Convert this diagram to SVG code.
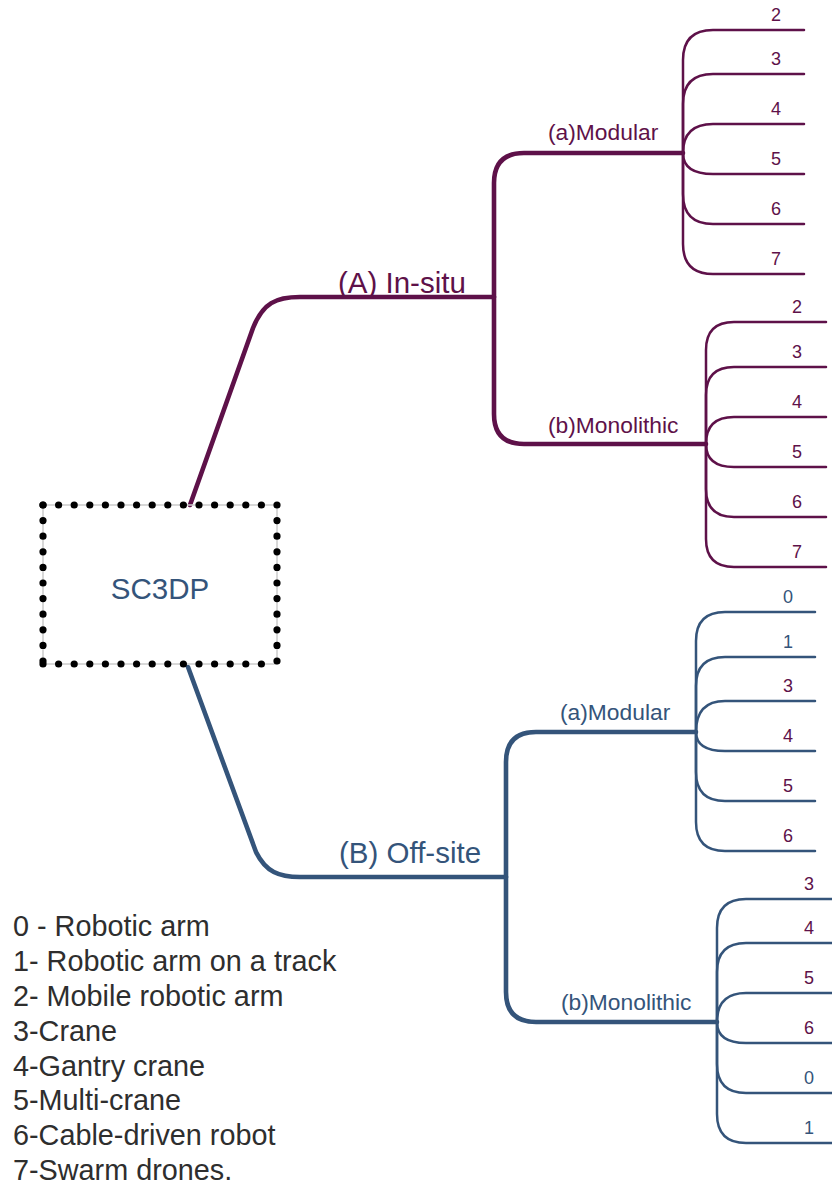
<svg xmlns="http://www.w3.org/2000/svg" width="832" height="1184" viewBox="0 0 832 1184">
<style>
text{font-family:"Liberation Sans",Arial,sans-serif}
.p{stroke:#5e1149;fill:none;stroke-linecap:round;stroke-linejoin:round}
.b{stroke:#34547a;fill:none;stroke-linecap:round;stroke-linejoin:round}
.main{stroke-width:4.6}
.leaf{stroke-width:2.5}
.tp{fill:#5e1149}
.tb{fill:#34547a}
.big{font-size:29.5px}
.mid{font-size:22.8px}
.num{font-size:18px;text-anchor:middle}
.leg{font-size:28.8px;fill:#2e2e2e}
.dots{stroke:#000;stroke-width:7.2;stroke-linecap:round;stroke-dasharray:0 15.6;fill:none}
</style>
<g id="connectors">
<path class="p main" d="M190,505 L253,328 C263,303 276,297 300,297 L494,297"/>
<path class="p main" d="M494,297 V183 Q494,153 524,153 H683"/>
<path class="p main" d="M494,297 V414 Q494,444 524,444 H706"/>
<path class="b main" d="M188,667 L256,852 C266,872 279,877 300,877 L506,877"/>
<path class="b main" d="M506,877 V762 Q506,732 536,732 H696"/>
<path class="b main" d="M506,877 V992 Q506,1022 536,1022 H717"/>
<g class="p leaf">
<path d="M683,153 V60 Q683,30 713,30 H804"/>
<path d="M683,153 V104 Q683,74 713,74 H804"/>
<path d="M683,153 Q683,124 713,124 H804"/>
<path d="M683,153 Q683,174 713,174 H804"/>
<path d="M683,153 V194 Q683,224 713,224 H804"/>
<path d="M683,153 V244 Q683,274 713,274 H804"/>
<path d="M706,444 V350 Q706,322 734,322 H826"/>
<path d="M706,444 V395 Q706,367 734,367 H826"/>
<path d="M706,444 Q706,417 734,417 H826"/>
<path d="M706,444 Q706,467 734,467 H826"/>
<path d="M706,444 V489 Q706,517 734,517 H826"/>
<path d="M706,444 V539 Q706,567 734,567 H826"/>
</g>
<g class="b leaf">
<path d="M696,732 V641 Q696,612 725,612 H815"/>
<path d="M696,732 V686 Q696,657 725,657 H815"/>
<path d="M696,732 Q696,701 725,701 H815"/>
<path d="M696,732 Q696,751 725,751 H815"/>
<path d="M696,732 V772 Q696,801 725,801 H815"/>
<path d="M696,732 V822 Q696,851 725,851 H815"/>
<path d="M717,1022 V928 Q717,899 746,899 H832"/>
<path d="M717,1022 V972 Q717,943 746,943 H832"/>
<path d="M717,1022 Q717,993 746,993 H832"/>
<path d="M717,1022 Q717,1043 746,1043 H832"/>
<path d="M717,1022 V1064 Q717,1093 746,1093 H832"/>
<path d="M717,1022 V1114 Q717,1143 746,1143 H832"/>
</g>
</g>
<g id="node-sc3dp">
<rect x="43" y="505" width="234" height="159" fill="none" stroke="#cccccc" stroke-width="1.5"/>
<path class="dots" d="M43,505 H277"/>
<path class="dots" d="M277,505 V664"/>
<path class="dots" d="M43,664 H277"/>
<path class="dots" d="M43,505 V664"/>
<text x="160" y="599" class="big tb" text-anchor="middle" font-size="29">SC3DP</text>
</g>
<g id="node-insitu">
<text x="338" y="293" class="big tp">(A) In-situ</text>
</g>
<g id="node-insitu-modular">
<text x="548" y="140" class="mid tp">(a)Modular</text>
<text x="776" y="21" class="num tp">2</text>
<text x="776" y="65" class="num tp">3</text>
<text x="776" y="115" class="num tp">4</text>
<text x="776" y="165" class="num tp">5</text>
<text x="776" y="215" class="num tp">6</text>
<text x="776" y="265" class="num tp">7</text>
</g>
<g id="node-insitu-monolithic">
<text x="548" y="433" class="mid tp">(b)Monolithic</text>
<text x="797" y="313" class="num tp">2</text>
<text x="797" y="358" class="num tp">3</text>
<text x="797" y="408" class="num tp">4</text>
<text x="797" y="458" class="num tp">5</text>
<text x="797" y="508" class="num tp">6</text>
<text x="797" y="558" class="num tp">7</text>
</g>
<g id="node-offsite">
<text x="339" y="863" class="big tb">(B) Off-site</text>
</g>
<g id="node-offsite-modular">
<text x="560" y="720" class="mid tb">(a)Modular</text>
<text x="788" y="603" class="num tb">0</text>
<text x="788" y="648" class="num tb">1</text>
<text x="788" y="692" class="num tp">3</text>
<text x="788" y="742" class="num tp">4</text>
<text x="788" y="792" class="num tp">5</text>
<text x="788" y="842" class="num tp">6</text>
</g>
<g id="node-offsite-monolithic">
<text x="561" y="1010" class="mid tb">(b)Monolithic</text>
<text x="809" y="890" class="num tp">3</text>
<text x="809" y="934" class="num tp">4</text>
<text x="809" y="984" class="num tp">5</text>
<text x="809" y="1034" class="num tp">6</text>
<text x="809" y="1084" class="num tb">0</text>
<text x="809" y="1134" class="num tb">1</text>
</g>
<g id="legend">
<text x="13" y="936" class="leg">0 - Robotic arm</text>
<text x="13" y="971" class="leg">1- Robotic arm on a track</text>
<text x="13" y="1006" class="leg">2- Mobile robotic arm</text>
<text x="13" y="1041" class="leg">3-Crane</text>
<text x="13" y="1076" class="leg">4-Gantry crane</text>
<text x="13" y="1110" class="leg">5-Multi-crane</text>
<text x="13" y="1145" class="leg">6-Cable-driven robot</text>
<text x="13" y="1180" class="leg">7-Swarm drones.</text>
</g>
</svg>
